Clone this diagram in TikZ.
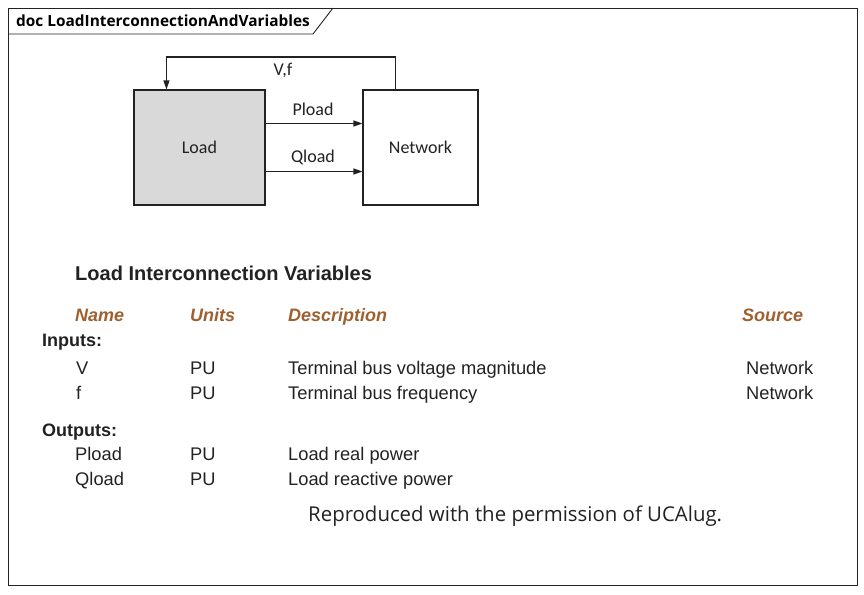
\documentclass[tikz,border=0pt]{standalone}
\usepackage{fontspec}
\setmainfont{Liberation Sans}
\newfontfamily\diagfont{Carlito}
\newfontfamily\framefont{Open Sans}
\usetikzlibrary{arrows.meta,positioning}

\definecolor{hdrbrown}{RGB}{158,96,48}
\definecolor{loadgray}{RGB}{217,217,217}
\definecolor{ink}{RGB}{34,34,34}

\begin{document}
\begin{tikzpicture}[x=1pt,y=-1pt,
  blk/.style={rectangle,draw=ink,line width=1.1pt,inner sep=0pt,
    font=\diagfont\fontsize{18}{21}\selectfont,text=ink},
  lbl/.style={inner sep=0pt,anchor=base,font=\diagfont\fontsize{18}{21}\selectfont,text=ink},
  a/.style={-{Triangle[length=9pt,width=6pt]},line width=1.1pt,draw=ink},
  txt/.style={inner sep=0pt,anchor=base west,font=\fontsize{18.3}{21}\selectfont,text=ink},
  grp/.style={txt,font=\bfseries\fontsize{18}{21}\selectfont},
  hdr/.style={txt,font=\bfseries\itshape\fontsize{18}{21}\selectfont,text=hdrbrown}]

\useasboundingbox (0,0) rectangle (864,594);

% frame and title tab
\draw[line width=0.9pt,draw=ink] (8,8) rectangle (857,585);
\draw[line width=0.9pt,draw=ink] (8,34) -- (313,34) -- (333,8);
\node[inner sep=0pt,anchor=base west,font=\framefont\bfseries\fontsize{15.4}{18}\selectfont] (ttl) at (16,27)
  {doc LoadInterconnectionAndVariables};

% blocks
\node[blk,fill=loadgray,minimum width=131pt,minimum height=115pt] (load) at (199.5,147.5) {Load};
\node[blk,fill=white,minimum width=115pt,minimum height=115pt] (net) at (420.5,147.5) {Network};

% V,f feedback
\coordinate (top) at (283,57);
\draw[a] ([xshift=33pt]net.north west) |- (top) -| ([xshift=33pt]load.north west);
\node[lbl] (vf) at (283,75) {V,f};

% Pload, Qload
\coordinate (pl) at ([yshift=24pt]load.east);
\coordinate (ql) at ([yshift=-24pt]load.east);
\draw[a] (pl) -- (pl -| net.west);
\draw[a] (ql) -- (ql -| net.west);
\node[lbl] (plt) at (313,115) {Pload};
\node[lbl] (qlt) at (313,162) {Qload};

% variable table
\node[txt,font=\bfseries\fontsize{20}{24}\selectfont] (tbl) at (75,280) {Load Interconnection Variables};

\node[hdr] (hname) at (75,321) {Name};
\node[hdr] (hunit) at (190,321) {Units};
\node[hdr] (hdesc) at (288,321) {Description};
\node[hdr] (hsrc) at (742,321) {Source};

\node[grp] (inp) at (42,346) {Inputs:};
\node[txt] (v) at (76,374) {V};
\node[txt] (vu) at (190,374) {PU};
\node[txt] (vd) at (288,374) {Terminal bus voltage magnitude};
\node[txt] (vs) at (746,374) {Network};
\node[txt] (f) at (76,399) {f};
\node[txt] (fu) at (190,399) {PU};
\node[txt] (fd) at (288,399) {Terminal bus frequency};
\node[txt] (fs) at (746,399) {Network};

\node[grp] (outp) at (42,436) {Outputs:};
\node[txt] (p) at (75,460) {Pload};
\node[txt] (pu) at (190,460) {PU};
\node[txt] (pd) at (288,460) {Load real power};
\node[txt] (q) at (75,485) {Qload};
\node[txt] (qu) at (190,485) {PU};
\node[txt] (qd) at (288,485) {Load reactive power};

% credit
\node[inner sep=0pt,anchor=base west,font=\framefont\fontsize{20.4}{24}\selectfont,text=ink] (cred) at (308,521)
  {Reproduced with the permission of UCAlug.};
\end{tikzpicture}
\end{document}
